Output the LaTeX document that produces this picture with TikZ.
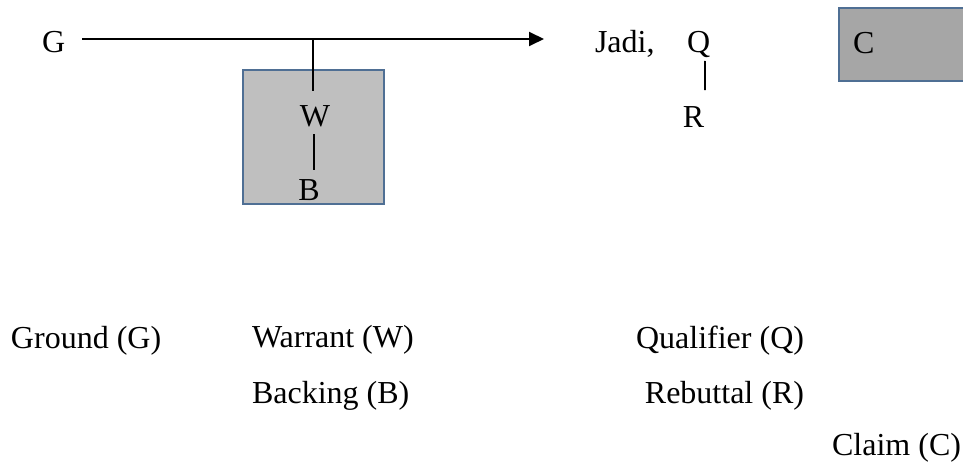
\documentclass[tikz,border=0pt]{standalone}
\usepackage{fontspec}
\setmainfont{Liberation Serif}
\usetikzlibrary{arrows.meta,calc}

\definecolor{boxedge}{HTML}{4F6F94}
\definecolor{lightfill}{HTML}{BFBFBF}
\definecolor{darkfill}{HTML}{A6A6A6}

\tikzset{
  lbl/.style={inner sep=0pt, outer sep=0pt, font=\fontsize{24pt}{28pt}\selectfont},
  link/.style={line width=1.4pt, black},
  flow/.style={link, -{Triangle[length=11.25pt, width=10.5pt]}},
  panel/.style={draw=boxedge, line width=0.8pt, inner sep=0pt, outer sep=0pt},
}

\begin{document}
\begin{tikzpicture}[x=0.75pt, y=-0.75pt]
  \useasboundingbox (0,0) rectangle (963,467);

  % shaded panels
  \node[panel, fill=lightfill, minimum width=105.75pt, minimum height=100.5pt] (wbbox) at (313.5,137) {};
  \node[panel, fill=darkfill, minimum width=105pt, minimum height=54.75pt] (cbox) at (909,44.5) {};

  % top row of the argument
  \node[lbl, anchor=base west] (G) at (42,53) {G};
  \node[lbl, anchor=base west] (jadi) at (595,53) {Jadi,};
  \node[lbl, anchor=base west] (Q) at (687,53) {Q};
  \node[lbl, anchor=base] (R) at (693.5,127) {R};
  \node[lbl, anchor=base west] (C) at (853,54) {C};
  \node[lbl, anchor=base] (W) at (315,126) {W};
  \node[lbl, anchor=base] (B) at (309,200) {B};

  % ground leads to the claim
  \draw[flow] ($(G.base east)+(17,-14)$) -- ($(jadi.base west)+(-51,-14)$);
  % warrant hangs from the inference arrow
  \draw[link] ($(W.north)+(-2,-66)$) -- ($(W.north)+(-2,-14)$);
  % backing supports the warrant
  \draw[link] ($(W.south)+(-1,8)$) -- ($(W.south)+(-1,44)$);
  % rebuttal attached to the qualifier
  \draw[link] ($(Q.base)+(6.5,8)$) -- ($(R.north)+(11.5,-16)$);

  % legend
  \node[lbl, anchor=base west] (lg) at (11,348) {Ground (G)};
  \node[lbl, anchor=base west] (lw) at (252,347) {Warrant (W)};
  \node[lbl, anchor=base west] (lb) at (252,403) {Backing (B)};
  \node[lbl, anchor=base east] (lq) at (804,348) {Qualifier (Q)};
  \node[lbl, anchor=base east] (lr) at (804,403) {Rebuttal (R)};
  \node[lbl, anchor=base east] (lc) at (961,455) {Claim (C)};
\end{tikzpicture}
\end{document}
